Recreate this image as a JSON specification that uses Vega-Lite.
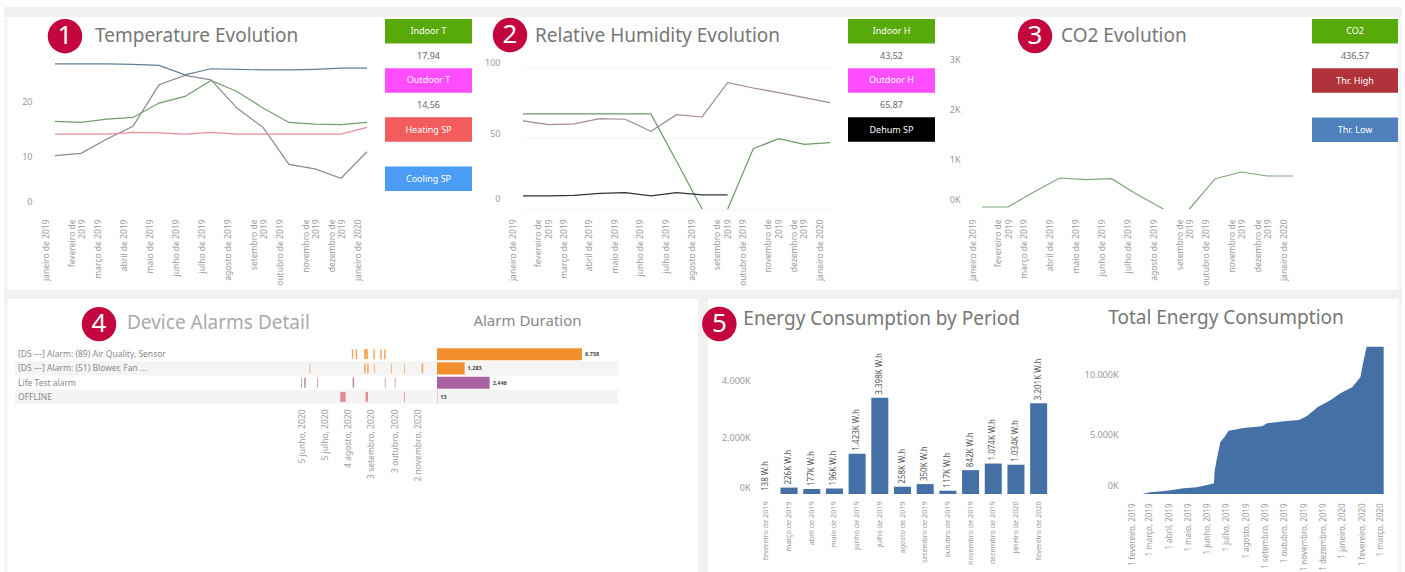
{"$schema":"https://vega.github.io/schema/vega-lite/v6.json","padding":{"left":4,"top":7,"right":3,"bottom":0},"background":"#ffffff","spacing":0,"bounds":"full",
"config":{"view":{"stroke":null},"font":"Noto Sans","axis":{"domain":false,"ticks":false,"grid":false,"title":null,"labelColor":"#9a9a9a","labelFont":"Noto Sans","labelOverlap":false,"labelBound":false}},
"datasets":{
"temp":[
{"month":"janeiro de 2019","series":"Indoor T","value":16.4},{"month":"fevereiro de 2019","series":"Indoor T","value":16.2},{"month":"março de 2019","series":"Indoor T","value":16.8},{"month":"abril de 2019","series":"Indoor T","value":17.1},{"month":"maio de 2019","series":"Indoor T","value":19.7},{"month":"junho de 2019","series":"Indoor T","value":20.9},{"month":"julho de 2019","series":"Indoor T","value":23.8},{"month":"agosto de 2019","series":"Indoor T","value":21.8},{"month":"setembro de 2019","series":"Indoor T","value":18.8},{"month":"outubro de 2019","series":"Indoor T","value":16.2},{"month":"novembro de 2019","series":"Indoor T","value":15.9},{"month":"dezembro de 2019","series":"Indoor T","value":15.8},{"month":"janeiro de 2020","series":"Indoor T","value":16.2},
{"month":"janeiro de 2019","series":"Outdoor T","value":10.2},{"month":"fevereiro de 2019","series":"Outdoor T","value":10.6},{"month":"março de 2019","series":"Outdoor T","value":13.2},{"month":"abril de 2019","series":"Outdoor T","value":15.5},{"month":"maio de 2019","series":"Outdoor T","value":23.0},{"month":"junho de 2019","series":"Outdoor T","value":24.7},{"month":"julho de 2019","series":"Outdoor T","value":23.9},{"month":"agosto de 2019","series":"Outdoor T","value":18.8},{"month":"setembro de 2019","series":"Outdoor T","value":15.3},{"month":"outubro de 2019","series":"Outdoor T","value":8.6},{"month":"novembro de 2019","series":"Outdoor T","value":7.8},{"month":"dezembro de 2019","series":"Outdoor T","value":6.1},{"month":"janeiro de 2020","series":"Outdoor T","value":10.9},
{"month":"janeiro de 2019","series":"Heating SP","value":14.1},{"month":"fevereiro de 2019","series":"Heating SP","value":14.1},{"month":"março de 2019","series":"Heating SP","value":14.1},{"month":"abril de 2019","series":"Heating SP","value":14.4},{"month":"maio de 2019","series":"Heating SP","value":14.3},{"month":"junho de 2019","series":"Heating SP","value":14.1},{"month":"julho de 2019","series":"Heating SP","value":14.4},{"month":"agosto de 2019","series":"Heating SP","value":14.1},{"month":"setembro de 2019","series":"Heating SP","value":14.1},{"month":"outubro de 2019","series":"Heating SP","value":14.1},{"month":"novembro de 2019","series":"Heating SP","value":14.1},{"month":"dezembro de 2019","series":"Heating SP","value":14.1},{"month":"janeiro de 2020","series":"Heating SP","value":15.3},
{"month":"janeiro de 2019","series":"Cooling SP","value":26.8},{"month":"fevereiro de 2019","series":"Cooling SP","value":26.8},{"month":"março de 2019","series":"Cooling SP","value":26.8},{"month":"abril de 2019","series":"Cooling SP","value":26.7},{"month":"maio de 2019","series":"Cooling SP","value":26.5},{"month":"junho de 2019","series":"Cooling SP","value":24.8},{"month":"julho de 2019","series":"Cooling SP","value":25.9},{"month":"agosto de 2019","series":"Cooling SP","value":25.8},{"month":"setembro de 2019","series":"Cooling SP","value":25.7},{"month":"outubro de 2019","series":"Cooling SP","value":25.7},{"month":"novembro de 2019","series":"Cooling SP","value":25.8},{"month":"dezembro de 2019","series":"Cooling SP","value":26.0},{"month":"janeiro de 2020","series":"Cooling SP","value":26.0}],
"hum":[
{"month":"janeiro de 2019","series":"Indoor H","seg":1,"value":67},{"month":"fevereiro de 2019","series":"Indoor H","seg":1,"value":67},{"month":"março de 2019","series":"Indoor H","seg":1,"value":67},{"month":"abril de 2019","series":"Indoor H","seg":1,"value":67},{"month":"maio de 2019","series":"Indoor H","seg":1,"value":67},{"month":"junho de 2019","series":"Indoor H","seg":1,"value":67},{"month":"julho de 2019","series":"Indoor H","seg":1,"value":33.6},{"month":"agosto de 2019","series":"Indoor H","seg":1,"value":0},{"month":"setembro de 2019","series":"Indoor H","seg":2,"value":0},{"month":"outubro de 2019","series":"Indoor H","seg":2,"value":42.5},{"month":"novembro de 2019","series":"Indoor H","seg":2,"value":49.5},{"month":"dezembro de 2019","series":"Indoor H","seg":2,"value":45.5},{"month":"janeiro de 2020","series":"Indoor H","seg":2,"value":46.7},
{"month":"janeiro de 2019","series":"Outdoor H","seg":1,"value":62},{"month":"fevereiro de 2019","series":"Outdoor H","seg":1,"value":59.4},{"month":"março de 2019","series":"Outdoor H","seg":1,"value":60},{"month":"abril de 2019","series":"Outdoor H","seg":1,"value":63.6},{"month":"maio de 2019","series":"Outdoor H","seg":1,"value":63.2},{"month":"junho de 2019","series":"Outdoor H","seg":1,"value":54.7},{"month":"julho de 2019","series":"Outdoor H","seg":1,"value":66.4},{"month":"agosto de 2019","series":"Outdoor H","seg":1,"value":64.8},{"month":"setembro de 2019","series":"Outdoor H","seg":1,"value":89},{"month":"outubro de 2019","series":"Outdoor H","seg":1,"value":85.2},{"month":"novembro de 2019","series":"Outdoor H","seg":1,"value":82},{"month":"dezembro de 2019","series":"Outdoor H","seg":1,"value":78.4},{"month":"janeiro de 2020","series":"Outdoor H","seg":1,"value":74.9},
{"month":"janeiro de 2019","series":"Dehum SP","seg":1,"value":9.2},{"month":"fevereiro de 2019","series":"Dehum SP","seg":1,"value":9.2},{"month":"março de 2019","series":"Dehum SP","seg":1,"value":9.6},{"month":"abril de 2019","series":"Dehum SP","seg":1,"value":11},{"month":"maio de 2019","series":"Dehum SP","seg":1,"value":11.5},{"month":"junho de 2019","series":"Dehum SP","seg":1,"value":9.2},{"month":"julho de 2019","series":"Dehum SP","seg":1,"value":11.5},{"month":"agosto de 2019","series":"Dehum SP","seg":1,"value":10},{"month":"setembro de 2019","series":"Dehum SP","seg":1,"value":10}],
"co2":[
{"month":"janeiro de 2019","seg":1,"value":40},{"month":"fevereiro de 2019","seg":1,"value":40},{"month":"março de 2019","seg":1,"value":340},{"month":"abril de 2019","seg":1,"value":620},{"month":"maio de 2019","seg":1,"value":586},{"month":"junho de 2019","seg":1,"value":606},{"month":"julho de 2019","seg":1,"value":286},{"month":"agosto de 2019","seg":1,"value":0},{"month":"setembro de 2019","seg":2,"value":0},{"month":"outubro de 2019","seg":2,"value":606},{"month":"novembro de 2019","seg":2,"value":740},{"month":"dezembro de 2019","seg":2,"value":660},{"month":"janeiro de 2020","seg":2,"value":660}],
"alarms":[
{"alarm":"[DS ---] Alarm: (89) Air Quality, Sensor","duration":6738,"text":"6.738"},{"alarm":"[DS ---] Alarm: (51) Blower, Fan ...","duration":1283,"text":"1.283"},{"alarm":"Life Test alarm","duration":2446,"text":"2.446"},{"alarm":"OFFLINE","duration":13,"text":"13"}],
"events":[
{"alarm":"[DS ---] Alarm: (89) Air Quality, Sensor","start":"2020-08-09","end":"2020-08-11"},{"alarm":"[DS ---] Alarm: (89) Air Quality, Sensor","start":"2020-08-14","end":"2020-08-16"},{"alarm":"[DS ---] Alarm: (89) Air Quality, Sensor","start":"2020-08-25","end":"2020-08-30"},{"alarm":"[DS ---] Alarm: (89) Air Quality, Sensor","start":"2020-09-06","end":"2020-09-08"},{"alarm":"[DS ---] Alarm: (89) Air Quality, Sensor","start":"2020-09-15","end":"2020-09-17"},{"alarm":"[DS ---] Alarm: (89) Air Quality, Sensor","start":"2020-09-20","end":"2020-09-22"},
{"alarm":"[DS ---] Alarm: (51) Blower, Fan ...","start":"2020-06-15","end":"2020-06-16"},{"alarm":"[DS ---] Alarm: (51) Blower, Fan ...","start":"2020-08-25","end":"2020-08-27"},{"alarm":"[DS ---] Alarm: (51) Blower, Fan ...","start":"2020-08-29","end":"2020-08-31"},{"alarm":"[DS ---] Alarm: (51) Blower, Fan ...","start":"2020-09-07","end":"2020-09-08"},{"alarm":"[DS ---] Alarm: (51) Blower, Fan ...","start":"2020-09-29","end":"2020-09-30"},{"alarm":"[DS ---] Alarm: (51) Blower, Fan ...","start":"2020-10-16","end":"2020-10-17"},{"alarm":"[DS ---] Alarm: (51) Blower, Fan ...","start":"2020-11-08","end":"2020-11-10"},
{"alarm":"Life Test alarm","start":"2020-06-04","end":"2020-06-05"},{"alarm":"Life Test alarm","start":"2020-06-08","end":"2020-06-10"},{"alarm":"Life Test alarm","start":"2020-06-25","end":"2020-06-26"},{"alarm":"Life Test alarm","start":"2020-08-10","end":"2020-08-12"},{"alarm":"Life Test alarm","start":"2020-09-21","end":"2020-09-22"},{"alarm":"Life Test alarm","start":"2020-10-04","end":"2020-10-05"},
{"alarm":"OFFLINE","start":"2020-07-25","end":"2020-08-01"},{"alarm":"OFFLINE","start":"2020-08-27","end":"2020-08-30"},{"alarm":"OFFLINE","start":"2020-10-16","end":"2020-10-17"}],
"energy":[
{"month":"fevereiro de 2019","value":0.138,"text":"138 W.h"},{"month":"março de 2019","value":226,"text":"226K W.h"},{"month":"abril de 2019","value":177,"text":"177K W.h"},{"month":"maio de 2019","value":196,"text":"196K W.h"},{"month":"junho de 2019","value":1423,"text":"1.423K W.h"},{"month":"julho de 2019","value":3398,"text":"3.398K W.h"},{"month":"agosto de 2019","value":258,"text":"258K W.h"},{"month":"setembro de 2019","value":350,"text":"350K W.h"},{"month":"outubro de 2019","value":117,"text":"117K W.h"},{"month":"novembro de 2019","value":842,"text":"842K W.h"},{"month":"dezembro de 2019","value":1074,"text":"1.074K W.h"},{"month":"janeiro de 2020","value":1034,"text":"1.034K W.h"},{"month":"fevereiro de 2020","value":3201,"text":"3.201K W.h"}],
"total":[
{"date":"2019-02-17","value":0},{"date":"2019-03-02","value":139},{"date":"2019-03-29","value":278},{"date":"2019-04-24","value":472},{"date":"2019-05-15","value":555},{"date":"2019-05-31","value":750},{"date":"2019-06-11","value":889},{"date":"2019-06-12","value":1944},{"date":"2019-06-16","value":3055},{"date":"2019-06-21","value":4305},{"date":"2019-06-29","value":4860},{"date":"2019-07-04","value":5278},{"date":"2019-07-28","value":5500},{"date":"2019-08-26","value":5639},{"date":"2019-09-03","value":5889},{"date":"2019-09-30","value":6055},{"date":"2019-10-24","value":6167},{"date":"2019-11-06","value":6528},{"date":"2019-11-22","value":7222},{"date":"2019-12-13","value":7833},{"date":"2019-12-29","value":8417},{"date":"2020-01-16","value":8889},{"date":"2020-01-29","value":9722},{"date":"2020-02-03","value":11111},{"date":"2020-02-08","value":12278},{"date":"2020-03-06","value":12278}]
},
"vconcat":[
{"width":1398,"height":10,"data":{"values":[{}]},"mark":{"type":"rect","fill":"#f1f1f1"},"encoding":{}},
{"hconcat":[
{"width":4,"height":271,"data":{"values":[{}]},"mark":{"type":"rect","fill":"#f5f5f5"},"encoding":{}},
{"width":47,"height":271,"data":{"values":[{}]},"mark":{"type":"rect","opacity":0},"encoding":{}},
{"width":312,"height":193,"layer":[
{"data":{"name":"temp"},"mark":{"type":"line","strokeWidth":1.2},"encoding":{"x":{"field":"month","type":"ordinal","sort":null,"title":null,"scale":{"type":"point","padding":0,"domain":["janeiro de 2019","fevereiro de 2019","março de 2019","abril de 2019","maio de 2019","junho de 2019","julho de 2019","agosto de 2019","setembro de 2019","outubro de 2019","novembro de 2019","dezembro de 2019","janeiro de 2020"]},"axis":{"labelAngle":-90,"labelFontSize":8.5,"labelPadding":7,"labelOffset":-10,"labelOverlap":false,"labelExpr":"test(/^(fev|set|nov|dez)/,datum.label) ? [replace(datum.label,' 2019',''),'2019'] : datum.label"}},"y":{"field":"value","type":"quantitative","title":null,"scale":{"domain":[0,34.9],"nice":false},"axis":{"values":[0,10,20],"labelPadding":23,"labelFlush":true,"labelFlushOffset":-6,"labelFontSize":9}},"color":{"field":"series","legend":null,"scale":{"domain":["Indoor T","Outdoor T","Heating SP","Cooling SP"],"range":["#6fa06b","#8f8792","#e88d98","#5f7f99"]}}}},
{"data":{"values":[{"n":"1"}]},"mark":{"type":"point","filled":true,"opacity":1,"size":1190,"color":"#c4063f","xOffset":10},"encoding":{"x":{"datum":"janeiro de 2019","type":"ordinal","title":null},"y":{"datum":31.8,"type":"quantitative","title":null}}},
{"data":{"values":[{"n":"1"}]},"mark":{"type":"text","fontSize":26,"color":"#ffffff","xOffset":10,"baseline":"middle"},"encoding":{"x":{"datum":"janeiro de 2019","type":"ordinal","title":null},"y":{"datum":31.8,"type":"quantitative","title":null},"text":{"field":"n"}}},
{"data":{"values":[{"title":"Temperature Evolution"}]},"mark":{"type":"text","fontSize":19,"color":"#777777","xOffset":40,"align":"left","baseline":"middle"},"encoding":{"x":{"datum":"janeiro de 2019","type":"ordinal","title":null},"y":{"datum":31.8,"type":"quantitative","title":null},"text":{"field":"title"}}}
]},
{"width":18,"height":271,"data":{"values":[{}]},"mark":{"type":"rect","opacity":0},"encoding":{}},
{"width":87,"height":172,"data":{"values":[{"label":"Indoor T","kind":"key"},{"label":"17,94","kind":"value"},{"label":"Outdoor T","kind":"key"},{"label":"14,56","kind":"value"},{"label":"Heating SP","kind":"key"},{"label":"Cooling SP","kind":"key"}]},"encoding":{"y":{"field":"label","type":"nominal","axis":null,"scale":{"type":"band","paddingInner":0,"paddingOuter":0,"domain":["Indoor T","17,94","Outdoor T","14,56","Heating SP","_","Cooling SP"]}}},"layer":[
{"transform":[{"filter":"datum.kind=='key'"}],"mark":{"type":"rect"},"encoding":{"color":{"field":"label","legend":null,"scale":{"domain":["Indoor T","Outdoor T","Heating SP","Cooling SP"],"range":["#58a90a","#ff4dff","#f25c5c","#4b9cf5"]}}}},
{"mark":{"type":"text","fontSize":9},"encoding":{"text":{"field":"label"},"color":{"condition":{"test":"datum.kind=='value'","value":"#666666"},"value":"#ffffff"}}}
]},
{"width":51,"height":271,"data":{"values":[{}]},"mark":{"type":"rect","opacity":0},"encoding":{}},
{"width":307,"height":190,"layer":[
{"data":{"name":"hum"},"mark":{"type":"line","strokeWidth":1.2},"encoding":{"x":{"field":"month","type":"ordinal","sort":null,"title":null,"scale":{"type":"point","padding":0,"domain":["janeiro de 2019","fevereiro de 2019","março de 2019","abril de 2019","maio de 2019","junho de 2019","julho de 2019","agosto de 2019","setembro de 2019","outubro de 2019","novembro de 2019","dezembro de 2019","janeiro de 2020"]},"axis":{"labelAngle":-90,"labelFontSize":8.5,"labelPadding":10,"labelOffset":-11,"labelOverlap":false,"labelExpr":"test(/^(fev|set|nov|dez)/,datum.label) ? [replace(datum.label,' 2019',''),'2019'] : datum.label"}},"y":{"field":"value","type":"quantitative","title":null,"scale":{"domain":[0,133.8],"nice":false},"axis":{"values":[0,50,100],"labelPadding":23,"labelFlush":true,"labelFlushOffset":-2,"labelOffset":-4,"labelFontSize":9,"grid":true,"gridColor":"#f5f5f5"}},"color":{"field":"series","legend":null,"scale":{"domain":["Indoor H","Outdoor H","Dehum SP"],"range":["#6b9a66","#a28a92","#333333"]}},"detail":{"field":"seg"}}},
{"data":{"values":[{"n":"2"}]},"mark":{"type":"point","filled":true,"opacity":1,"size":1190,"color":"#c4063f","xOffset":-13},"encoding":{"x":{"datum":"janeiro de 2019","type":"ordinal","title":null},"y":{"datum":122.5,"type":"quantitative","title":null}}},
{"data":{"values":[{"n":"2"}]},"mark":{"type":"text","fontSize":26,"color":"#ffffff","xOffset":-13,"baseline":"middle"},"encoding":{"x":{"datum":"janeiro de 2019","type":"ordinal","title":null},"y":{"datum":122.5,"type":"quantitative","title":null},"text":{"field":"n"}}},
{"data":{"values":[{"title":"Relative Humidity Evolution"}]},"mark":{"type":"text","fontSize":19,"color":"#777777","xOffset":12,"align":"left","baseline":"middle"},"encoding":{"x":{"datum":"janeiro de 2019","type":"ordinal","title":null},"y":{"datum":122,"type":"quantitative","title":null},"text":{"field":"title"}}}
]},
{"width":18,"height":271,"data":{"values":[{}]},"mark":{"type":"rect","opacity":0},"encoding":{}},
{"width":87,"height":172,"data":{"values":[{"label":"Indoor H","kind":"key"},{"label":"43,52","kind":"value"},{"label":"Outdoor H","kind":"key"},{"label":"65,87","kind":"value"},{"label":"Dehum SP","kind":"key"}]},"encoding":{"y":{"field":"label","type":"nominal","axis":null,"scale":{"type":"band","paddingInner":0,"paddingOuter":0,"domain":["Indoor H","43,52","Outdoor H","65,87","Dehum SP","_","__"]}}},"layer":[
{"transform":[{"filter":"datum.kind=='key'"}],"mark":{"type":"rect"},"encoding":{"color":{"field":"label","legend":null,"scale":{"domain":["Indoor H","Outdoor H","Dehum SP"],"range":["#58a90a","#ff4dff","#000000"]}}}},
{"mark":{"type":"text","fontSize":9},"encoding":{"text":{"field":"label"},"color":{"condition":{"test":"datum.kind=='value'","value":"#666666"},"value":"#ffffff"}}}
]},
{"width":47,"height":271,"data":{"values":[{}]},"mark":{"type":"rect","opacity":0},"encoding":{}},
{"width":311,"height":190,"layer":[
{"data":{"name":"co2"},"mark":{"type":"line","strokeWidth":1.2,"color":"#7ea878"},"encoding":{"x":{"field":"month","type":"ordinal","sort":null,"title":null,"scale":{"type":"point","padding":0,"domain":["janeiro de 2019","fevereiro de 2019","março de 2019","abril de 2019","maio de 2019","junho de 2019","julho de 2019","agosto de 2019","setembro de 2019","outubro de 2019","novembro de 2019","dezembro de 2019","janeiro de 2020"]},"axis":{"labelAngle":-90,"labelFontSize":8.5,"labelPadding":10,"labelOffset":-10,"labelOverlap":false,"labelExpr":"test(/^(fev|set|nov|dez)/,datum.label) ? [replace(datum.label,' 2019',''),'2019'] : datum.label"}},"y":{"field":"value","type":"quantitative","title":null,"scale":{"domain":[0,3800],"nice":false},"axis":{"values":[0,1000,2000,3000],"labelPadding":22,"labelFlush":true,"labelFlushOffset":-5,"labelFontSize":9,"labelExpr":"(datum.value/1000)+'K'"}},"detail":{"field":"seg"}}},
{"data":{"values":[{"n":"3"}]},"mark":{"type":"point","filled":true,"opacity":1,"size":1190,"color":"#c4063f","xOffset":53},"encoding":{"x":{"datum":"janeiro de 2019","type":"ordinal","title":null},"y":{"datum":3460,"type":"quantitative","title":null}}},
{"data":{"values":[{"n":"3"}]},"mark":{"type":"text","fontSize":26,"color":"#ffffff","xOffset":53,"baseline":"middle"},"encoding":{"x":{"datum":"janeiro de 2019","type":"ordinal","title":null},"y":{"datum":3460,"type":"quantitative","title":null},"text":{"field":"n"}}},
{"data":{"values":[{"title":"CO2 Evolution"}]},"mark":{"type":"text","fontSize":19,"color":"#777777","xOffset":79,"align":"left","baseline":"middle"},"encoding":{"x":{"datum":"janeiro de 2019","type":"ordinal","title":null},"y":{"datum":3460,"type":"quantitative","title":null},"text":{"field":"title"}}}
]},
{"width":19,"height":271,"data":{"values":[{}]},"mark":{"type":"rect","opacity":0},"encoding":{}},
{"width":86,"height":123,"data":{"values":[{"label":"CO2","kind":"key"},{"label":"436,57","kind":"value"},{"label":"Thr. High","kind":"key"},{"label":"Thr. Low","kind":"key"}]},"encoding":{"y":{"field":"label","type":"nominal","axis":null,"scale":{"type":"band","paddingInner":0,"paddingOuter":0,"domain":["CO2","436,57","Thr. High","_","Thr. Low"]}}},"layer":[
{"transform":[{"filter":"datum.kind=='key'"}],"mark":{"type":"rect"},"encoding":{"color":{"field":"label","legend":null,"scale":{"domain":["CO2","Thr. High","Thr. Low"],"range":["#58a90a","#b0333c","#4f81bd"]}}}},
{"mark":{"type":"text","fontSize":9},"encoding":{"text":{"field":"label"},"color":{"condition":{"test":"datum.kind=='value'","value":"#666666"},"value":"#ffffff"}}}
]},
{"width":4,"height":271,"data":{"values":[{}]},"mark":{"type":"rect","fill":"#f5f5f5"},"encoding":{}}
],"spacing":0,"bounds":"flush","resolve":{"scale":{"x":"independent","y":"independent","color":"independent"}}},
{"width":1398,"height":9,"data":{"values":[{}]},"mark":{"type":"rect","fill":"#f1f1f1"},"encoding":{}},
{"hconcat":[
{"width":4,"height":275,"data":{"values":[{}]},"mark":{"type":"rect","fill":"#f5f5f5"},"encoding":{}},
{"width":7,"height":275,"data":{"values":[{}]},"mark":{"type":"rect","opacity":0},"encoding":{}},
{"width":280,"height":105,"encoding":{"y":{"field":"alarm","type":"nominal","axis":null,"sort":null,"scale":{"type":"band","paddingInner":0,"paddingOuter":0,"range":[48,105],"domain":["[DS ---] Alarm: (89) Air Quality, Sensor","[DS ---] Alarm: (51) Blower, Fan ...","Life Test alarm","OFFLINE"]}}},"layer":[
{"data":{"name":"alarms"},"transform":[{"filter":"datum.alarm=='OFFLINE'||datum.text=='1.283'"}],"mark":{"type":"rect","fill":"#f4f4f4"}},
{"data":{"name":"alarms"},"mark":{"type":"text","fontSize":8.5,"color":"#8a8a8a","align":"left","xOffset":3},"encoding":{"x":{"datum":0,"type":"quantitative","axis":null,"scale":{"domain":[0,1]}},"text":{"field":"alarm"}}},
{"data":{"values":[{"n":"4"}]},"mark":{"type":"point","filled":true,"opacity":1,"size":1190,"color":"#c4063f","yOffset":-30},"encoding":{"x":{"datum":0.3,"type":"quantitative","axis":null},"y":{"datum":"[DS ---] Alarm: (89) Air Quality, Sensor","type":"nominal","axis":null}}},
{"data":{"values":[{"n":"4"}]},"mark":{"type":"text","fontSize":26,"color":"#ffffff","yOffset":-30,"baseline":"middle"},"encoding":{"x":{"datum":0.3,"type":"quantitative","axis":null},"y":{"datum":"[DS ---] Alarm: (89) Air Quality, Sensor","type":"nominal","axis":null},"text":{"field":"n"}}},
{"data":{"values":[{"title":"Device Alarms Detail"}]},"mark":{"type":"text","fontSize":19,"color":"#aaaaaa","align":"left","baseline":"middle","yOffset":-31},"encoding":{"x":{"datum":0.4,"type":"quantitative","axis":null},"y":{"datum":"[DS ---] Alarm: (89) Air Quality, Sensor","type":"nominal","axis":null},"text":{"field":"title"}}}
]},
{"width":142,"height":105,"encoding":{"y":{"field":"alarm","type":"nominal","axis":null,"sort":null,"scale":{"type":"band","paddingInner":0,"paddingOuter":0,"range":[48,105],"domain":["[DS ---] Alarm: (89) Air Quality, Sensor","[DS ---] Alarm: (51) Blower, Fan ...","Life Test alarm","OFFLINE"]}}},"layer":[
{"data":{"name":"alarms"},"transform":[{"filter":"datum.alarm=='OFFLINE'||datum.text=='1.283'"}],"mark":{"type":"rect","fill":"#f4f4f4"}},
{"data":{"name":"events"},"mark":{"type":"bar","size":10,"opacity":0.75},"encoding":{"x":{"field":"start","type":"temporal","title":null,"scale":{"type":"utc","domain":[{"year":2020,"month":5,"date":27,"utc":true},{"year":2020,"month":11,"date":28,"utc":true}]},"axis":{"values":[{"year":2020,"month":6,"date":5,"utc":true},{"year":2020,"month":7,"date":5,"utc":true},{"year":2020,"month":8,"date":4,"utc":true},{"year":2020,"month":9,"date":3,"utc":true},{"year":2020,"month":10,"date":3,"utc":true},{"year":2020,"month":11,"date":2,"utc":true}],"labelAngle":-90,"labelFontSize":8.5,"labelPadding":5,"labelOverlap":false,"labelExpr":"utcdate(datum.value)+' '+['janeiro','fevereiro','março','abril','maio','junho','julho','agosto','setembro','outubro','novembro','dezembro'][utcmonth(datum.value)]+', '+utcyear(datum.value)"}},"x2":{"field":"end"},"color":{"field":"alarm","legend":null,"scale":{"domain":["[DS ---] Alarm: (89) Air Quality, Sensor","[DS ---] Alarm: (51) Blower, Fan ...","Life Test alarm","OFFLINE"],"range":["#f28e2b","#f28e2b","#a9629f","#e0616f"]}}}}
]},
{"width":181,"height":105,"encoding":{"y":{"field":"alarm","type":"nominal","axis":null,"sort":null,"scale":{"type":"band","paddingInner":0,"paddingOuter":0,"range":[48,105],"domain":["[DS ---] Alarm: (89) Air Quality, Sensor","[DS ---] Alarm: (51) Blower, Fan ...","Life Test alarm","OFFLINE"]}}},"layer":[
{"data":{"name":"alarms"},"transform":[{"filter":"datum.alarm=='OFFLINE'||datum.text=='1.283'"}],"mark":{"type":"rect","fill":"#f4f4f4"}},
{"data":{"name":"alarms"},"mark":{"type":"bar","size":12},"encoding":{"x":{"field":"duration","type":"quantitative","axis":null,"scale":{"domain":[0,8411],"nice":false}},"color":{"field":"alarm","legend":null,"scale":{"domain":["[DS ---] Alarm: (89) Air Quality, Sensor","[DS ---] Alarm: (51) Blower, Fan ...","Life Test alarm","OFFLINE"],"range":["#f28e2b","#f28e2b","#a9629f","#e0616f"]}}}},
{"data":{"name":"alarms"},"mark":{"type":"text","fontSize":5.5,"fontWeight":"bold","color":"#444444","align":"left","dx":3},"encoding":{"x":{"field":"duration","type":"quantitative"},"text":{"field":"text"}}},
{"data":{"values":[{"title":"Alarm Duration"}]},"mark":{"type":"text","fontSize":15,"color":"#888888","baseline":"middle","yOffset":-33},"encoding":{"x":{"datum":4205,"type":"quantitative","axis":null},"y":{"datum":"[DS ---] Alarm: (89) Air Quality, Sensor","type":"nominal","axis":null},"text":{"field":"title"}}}
]},
{"width":80,"height":275,"data":{"values":[{}]},"mark":{"type":"rect","opacity":0},"encoding":{}},
{"width":10,"height":275,"data":{"values":[{}]},"mark":{"type":"rect","fill":"#f1f1f1"},"encoding":{}},
{"width":47,"height":275,"data":{"values":[{}]},"mark":{"type":"rect","opacity":0},"encoding":{}},
{"width":295,"height":195,"layer":[
{"data":{"name":"energy"},"mark":{"type":"bar","color":"#4470a5"},"encoding":{"x":{"field":"month","type":"ordinal","sort":null,"title":null,"scale":{"type":"band","paddingInner":0.25,"paddingOuter":0.125,"domain":["fevereiro de 2019","março de 2019","abril de 2019","maio de 2019","junho de 2019","julho de 2019","agosto de 2019","setembro de 2019","outubro de 2019","novembro de 2019","dezembro de 2019","janeiro de 2020","fevereiro de 2020"]},"axis":{"labelAngle":-90,"labelFontSize":7.2,"labelPadding":7,"labelOverlap":false}},"y":{"field":"value","type":"quantitative","title":null,"scale":{"domain":[0,6880],"nice":false},"axis":{"values":[0,2000,4000],"labelPadding":5,"labelFlush":true,"labelFlushOffset":-2,"labelFontSize":9,"labelExpr":"replace(format(datum.value,','),',','.')+'K'"}}}},
{"data":{"name":"energy"},"mark":{"type":"text","angle":270,"align":"left","baseline":"middle","dx":3,"fontSize":8,"color":"#555555"},"encoding":{"x":{"field":"month","type":"ordinal","sort":null,"title":null},"y":{"field":"value","type":"quantitative","title":null},"text":{"field":"text"}}},
{"data":{"values":[{"n":"5"}]},"mark":{"type":"point","filled":true,"opacity":1,"size":1190,"color":"#c4063f","xOffset":-47,"yOffset":2},"encoding":{"x":{"datum":"fevereiro de 2019","type":"ordinal","title":null},"y":{"datum":6070,"type":"quantitative","title":null}}},
{"data":{"values":[{"n":"5"}]},"mark":{"type":"text","fontSize":26,"color":"#ffffff","xOffset":-47,"yOffset":2,"baseline":"middle"},"encoding":{"x":{"datum":"fevereiro de 2019","type":"ordinal","title":null},"y":{"datum":6070,"type":"quantitative","title":null},"text":{"field":"n"}}},
{"data":{"values":[{"title":"Energy Consumption by Period"}]},"mark":{"type":"text","fontSize":19,"color":"#777777","xOffset":-23,"align":"left","baseline":"middle","yOffset":-3},"encoding":{"x":{"datum":"fevereiro de 2019","type":"ordinal","title":null},"y":{"datum":6070,"type":"quantitative","title":null},"text":{"field":"title"}}}
]},
{"width":82,"height":275,"data":{"values":[{}]},"mark":{"type":"rect","opacity":0},"encoding":{}},
{"width":258,"height":195,"layer":[
{"data":{"name":"total"},"mark":{"type":"area","color":"#4470a5"},"encoding":{"x":{"field":"date","type":"temporal","title":null,"scale":{"type":"utc","domain":[{"year":2019,"month":2,"date":1,"utc":true},{"year":2020,"month":3,"date":16,"utc":true}]},"axis":{"values":[{"year":2019,"month":2,"date":1,"utc":true},{"year":2019,"month":3,"date":1,"utc":true},{"year":2019,"month":4,"date":1,"utc":true},{"year":2019,"month":5,"date":1,"utc":true},{"year":2019,"month":6,"date":1,"utc":true},{"year":2019,"month":7,"date":1,"utc":true},{"year":2019,"month":8,"date":1,"utc":true},{"year":2019,"month":9,"date":1,"utc":true},{"year":2019,"month":10,"date":1,"utc":true},{"year":2019,"month":11,"date":1,"utc":true},{"year":2019,"month":12,"date":1,"utc":true},{"year":2020,"month":1,"date":1,"utc":true},{"year":2020,"month":2,"date":1,"utc":true},{"year":2020,"month":3,"date":1,"utc":true}],"labelAngle":-90,"labelFontSize":8,"labelPadding":9,"labelOverlap":false,"labelExpr":"utcdate(datum.value)+' '+['janeiro','fevereiro','março','abril','maio','junho','julho','agosto','setembro','outubro','novembro','dezembro'][utcmonth(datum.value)]+', '+utcyear(datum.value)"}},"y":{"field":"value","type":"quantitative","title":null,"scale":{"domain":[0,16250],"nice":false},"axis":{"values":[0,5000,10000],"labelPadding":14,"labelFlush":true,"labelFlushOffset":-4,"labelFontSize":9,"labelExpr":"replace(format(datum.value,','),',','.')+'K'"}}}},
{"data":{"values":[{"title":"Total Energy Consumption"}]},"mark":{"type":"text","fontSize":19,"color":"#777777","dx":-35,"baseline":"middle"},"encoding":{"y":{"datum":14650,"type":"quantitative","title":null},"text":{"field":"title"}}}
]},
{"width":8,"height":275,"data":{"values":[{}]},"mark":{"type":"rect","opacity":0},"encoding":{}},
{"width":4,"height":275,"data":{"values":[{}]},"mark":{"type":"rect","fill":"#f5f5f5"},"encoding":{}}
],"spacing":0,"bounds":"flush","resolve":{"scale":{"x":"independent","y":"independent","color":"independent"}}}
]}
